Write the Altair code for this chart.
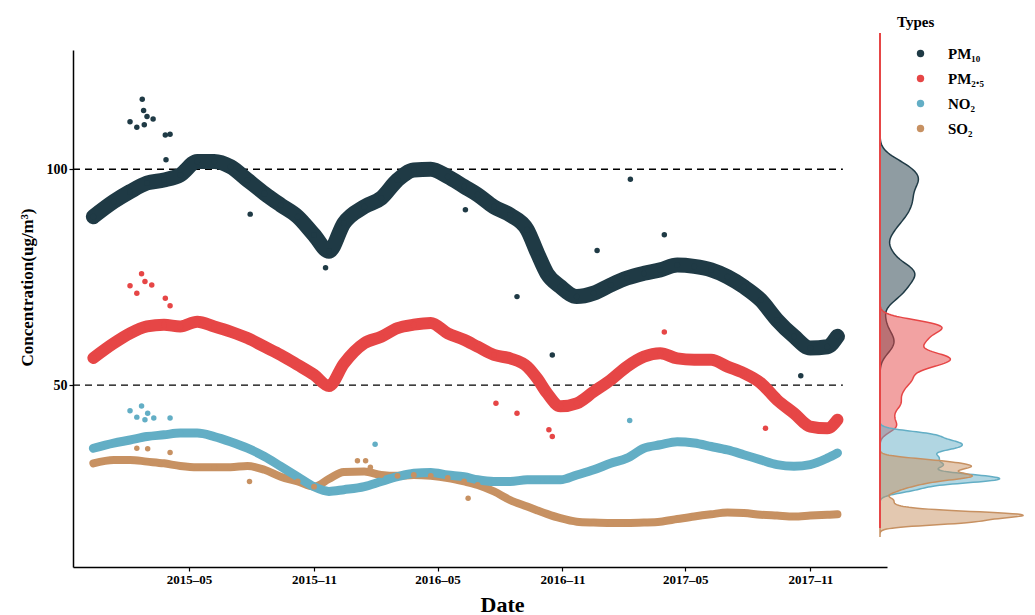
import altair as alt
import pandas as pd

types = ["PM₁₀", "PM₂.₅", "NO₂", "SO₂"]
colors = ["#1f3a45", "#e64646", "#63aec5", "#c79162"]

dates = ["2014-12-11", "2015-01-10", "2015-02-03", "2015-02-28", "2015-03-25", "2015-04-18",
         "2015-05-13", "2015-06-07", "2015-07-01", "2015-07-26", "2015-08-20", "2015-09-13",
         "2015-10-08", "2015-11-01", "2015-11-23", "2015-12-15", "2016-01-14", "2016-02-08",
         "2016-03-03", "2016-03-27", "2016-04-21", "2016-05-16", "2016-06-09", "2016-06-29",
         "2016-07-23", "2016-08-16", "2016-09-10", "2016-09-25", "2016-10-09", "2016-10-29",
         "2016-11-22", "2016-12-17", "2017-01-11", "2017-02-04", "2017-03-01", "2017-03-25",
         "2017-04-19", "2017-05-14", "2017-06-08", "2017-07-02", "2017-07-26", "2017-08-20",
         "2017-09-13", "2017-10-08", "2017-11-01", "2017-11-26", "2017-12-11"]

pm10 = [89.0, 92.5, 94.8, 96.8, 97.5, 98.7, 101.8, 101.8, 100.6, 97.5, 94.4, 91.7,
        89.0, 84.8, 81.0, 87.5, 91.3, 93.3, 97.5, 99.8, 100.0, 98.3, 96.0, 94.1,
        91.3, 89.4, 86.0, 80.6, 75.9, 72.8, 70.5, 71.3, 73.2, 74.8, 75.9, 76.7,
        77.8, 77.5, 76.7, 75.1, 72.8, 69.7, 65.1, 61.3, 58.6, 58.9, 61.3]
pm25 = [56.3, 59.7, 62.0, 63.6, 64.0, 63.6, 64.7, 63.6, 62.4, 60.9, 58.9, 57.0,
        54.7, 52.4, 49.8, 55.0, 59.7, 61.2, 63.2, 64.0, 64.4, 62.0, 60.5, 58.9,
        57.0, 56.2, 54.3, 51.5, 48.2, 45.1, 45.8, 48.5, 51.2, 54.3, 56.6, 57.4,
        56.2, 55.9, 55.9, 54.3, 52.8, 50.5, 46.6, 43.5, 40.4, 40.0, 42.0]
no2 = [35.4, 36.6, 37.3, 38.1, 38.5, 38.9, 38.9, 38.1, 36.9, 35.4, 33.5, 31.2,
       28.8, 26.5, 25.4, 25.8, 26.5, 27.7, 28.8, 29.6, 29.8, 29.2, 28.8, 28.1,
       27.7, 27.7, 28.1, 28.1, 28.1, 28.1, 29.2, 30.4, 31.9, 33.1, 35.4, 36.2,
       36.9, 36.6, 35.8, 35.0, 33.9, 32.7, 31.6, 31.2, 31.6, 33.1, 34.3]
so2 = [31.9, 32.7, 32.7, 32.3, 31.9, 31.3, 31.0, 31.0, 31.0, 31.3, 30.4, 28.8,
       27.7, 26.5, 28.3, 29.9, 30.0, 29.2, 29.0, 29.2, 29.0, 28.5, 27.7, 26.9,
       25.4, 23.4, 21.9, 21.0, 20.2, 19.2, 18.4, 18.2, 18.1, 18.1, 18.2, 18.4,
       19.0, 19.6, 20.1, 20.5, 20.4, 20.0, 19.8, 19.6, 19.8, 20.0, 20.1]

# scattered outliers
pm10_out_dates = ["2015-02-21", "2015-02-03", "2015-02-13", "2015-02-23", "2015-02-28", "2015-03-09",
                  "2015-02-24", "2015-03-27", "2015-04-03", "2015-03-28", "2015-11-18", "2015-07-30",
                  "2016-06-11", "2017-02-09", "2016-08-26", "2016-10-17", "2017-10-18", "2016-12-22",
                  "2017-03-31"]
pm10_out = [116.2, 111.0, 109.7, 113.6, 112.2, 111.6, 110.3, 107.9, 108.1, 102.2, 77.2, 89.6,
            90.6, 97.7, 70.5, 57.0, 52.2, 81.2, 84.8]
pm25_out_dates = ["2015-02-20", "2015-02-03", "2015-02-13", "2015-02-25", "2015-03-07", "2015-03-27",
                  "2015-04-03", "2016-07-26", "2016-08-26", "2016-10-12", "2016-10-17", "2017-08-27",
                  "2017-03-31"]
pm25_out = [75.8, 73.0, 71.3, 74.0, 73.2, 70.1, 68.4, 45.8, 43.5, 39.7, 38.1, 40.0, 62.3]
no2_out_dates = ["2015-02-03", "2015-02-20", "2015-02-13", "2015-03-01", "2015-02-25", "2015-03-10",
                 "2015-04-03", "2016-01-30", "2017-02-08"]
no2_out = [44.1, 45.2, 42.6, 43.5, 42.0, 42.4, 42.4, 36.3, 41.8]
so2_out_dates = ["2015-02-13", "2015-03-01", "2015-04-03", "2016-01-04", "2016-01-16", "2016-01-23",
                 "2015-07-29", "2016-06-15"]
so2_out = [35.4, 35.3, 34.4, 32.5, 32.5, 31.0, 27.7, 23.8]

hline_values = [100, 50]

series = {types[0]: pm10, types[1]: pm25, types[2]: no2, types[3]: so2}
outliers = {types[0]: (pm10_out_dates, pm10_out), types[1]: (pm25_out_dates, pm25_out),
            types[2]: (no2_out_dates, no2_out), types[3]: (so2_out_dates, so2_out)}

rows = []
for t, vals in series.items():
    for d, v in zip(dates, vals):
        rows.append({"date": d, "type": t, "value": v})
df = pd.DataFrame(rows)

orows = []
for t, (ds, vs) in outliers.items():
    for d, v in zip(ds, vs):
        orows.append({"date": d, "type": t, "value": v})
dfo = pd.DataFrame(orows)

dfh = pd.DataFrame({"value": hline_values, "start": ["2014-11-11"] * 2, "end": ["2017-12-19"] * 2})

FONT = "Liberation Serif"
color_scale = alt.Scale(domain=types, range=colors)
x_domain = [alt.DateTime(year=2014, month=11, date=11), alt.DateTime(year=2018, month=2, date=22)]

x_axis = alt.Axis(
    values=[alt.DateTime(year=y, month=m, date=1) for y, m in
            [(2015, 5), (2015, 11), (2016, 5), (2016, 11), (2017, 5), (2017, 11)]],
    format="%Y–%m", title="Date", titleFontSize=22, titlePadding=8, titleX=429,
    labelFontSize=13, tickSize=4, labelPadding=2, grid=False)
x_enc = alt.X("date:T", scale=alt.Scale(domain=x_domain), axis=x_axis)
y_axis = alt.Axis(values=[50, 100], title="Concentration(ug/m³)", titleFontSize=17,
                  titlePadding=10, titleY=237, labelFontSize=14, tickSize=4, labelPadding=2,
                  grid=False)
y_scale = alt.Scale(domain=[7.9, 127.6], nice=False, zero=False)
y_enc = alt.Y("value:Q", scale=y_scale, axis=y_axis)

main_layers = []
# dashed reference lines
main_layers.append(
    alt.Chart(dfh).mark_rule(color="black", strokeDash=[7, 5], strokeWidth=1.4).encode(
        x=alt.X("start:T", scale=alt.Scale(domain=x_domain), axis=x_axis),
        x2="end:T", y=y_enc)
)

band_width = {types[0]: 15, types[1]: 12, types[2]: 9, types[3]: 8}
draw_order = [types[0], types[1], types[3], types[2]]
for t in draw_order:
    c = colors[types.index(t)]
    main_layers.append(
        alt.Chart(df).transform_filter(alt.datum.type == t).mark_line(
            color=c, strokeWidth=band_width[t], strokeCap="round", strokeJoin="round",
            interpolate="monotone").encode(x=x_enc, y=y_enc)
    )

main_layers.append(
    alt.Chart(df).mark_circle(size=34, opacity=1).encode(
        x=x_enc, y=y_enc,
        color=alt.Color("type:N", scale=color_scale, sort=types,
                        legend=alt.Legend(title="Types", orient="none", legendX=824, legendY=-35,
                                          symbolType="circle", symbolSize=55, symbolOffset=16,
                                          labelOffset=20, rowPadding=9, titlePadding=16,
                                          padding=0, titleFontSize=15, labelFontSize=15,
                                          titleFont=FONT, labelFont=FONT, titleFontWeight="bold",
                                          labelFontWeight="bold", titleColor="black",
                                          labelColor="black")),
        order=alt.Order("type:N"))
)
main_layers.append(
    alt.Chart(dfo).mark_circle(size=30, opacity=1).encode(
        x=x_enc, y=y_enc,
        color=alt.Color("type:N", scale=color_scale, legend=None))
)
main = alt.layer(*main_layers)

# marginal densities
bw = {types[0]: 2.0, types[1]: 1.3, types[2]: 0.8, types[3]: 0.7}
ext = {types[0]: [50, 110], types[1]: [36, 70], types[2]: [22, 42], types[3]: [15, 36]}
dens_scale = alt.Scale(range=[807, 950], zero=True, nice=False)
dens_layers = []
for t in types:
    c = colors[types.index(t)]
    dens_layers.append(
        alt.Chart(df).transform_filter(alt.datum.type == t).transform_density(
            "value", as_=["value", "density"], bandwidth=bw[t], extent=ext[t], steps=200
        ).mark_area(orient="horizontal", color=c, fillOpacity=0.5, stroke=c, strokeWidth=1.5).encode(
            y=y_enc, x=alt.X("density:Q", scale=dens_scale, axis=None))
    )
dens_layers.append(
    alt.Chart(df).mark_rule(color="#e64646", strokeWidth=2).encode(
        x=alt.value(807), y=alt.value(-17), y2=alt.value(478))
)
dens = alt.layer(*dens_layers)

chart = alt.layer(main, dens).resolve_scale(x="independent").properties(
    width=814, height=517, background="white",
    padding={"left": 10, "top": 7, "right": 0, "bottom": 0}
).configure_view(stroke=None).configure_axis(
    domainColor="black", domainWidth=1.5, tickColor="black", tickWidth=1.2, grid=False,
    labelFont=FONT, labelFontWeight="bold", labelColor="black",
    titleFont=FONT, titleFontWeight="bold", titleColor="black"
)

chart.save("out.html", embed_options={"renderer": "svg", "actions": False})
